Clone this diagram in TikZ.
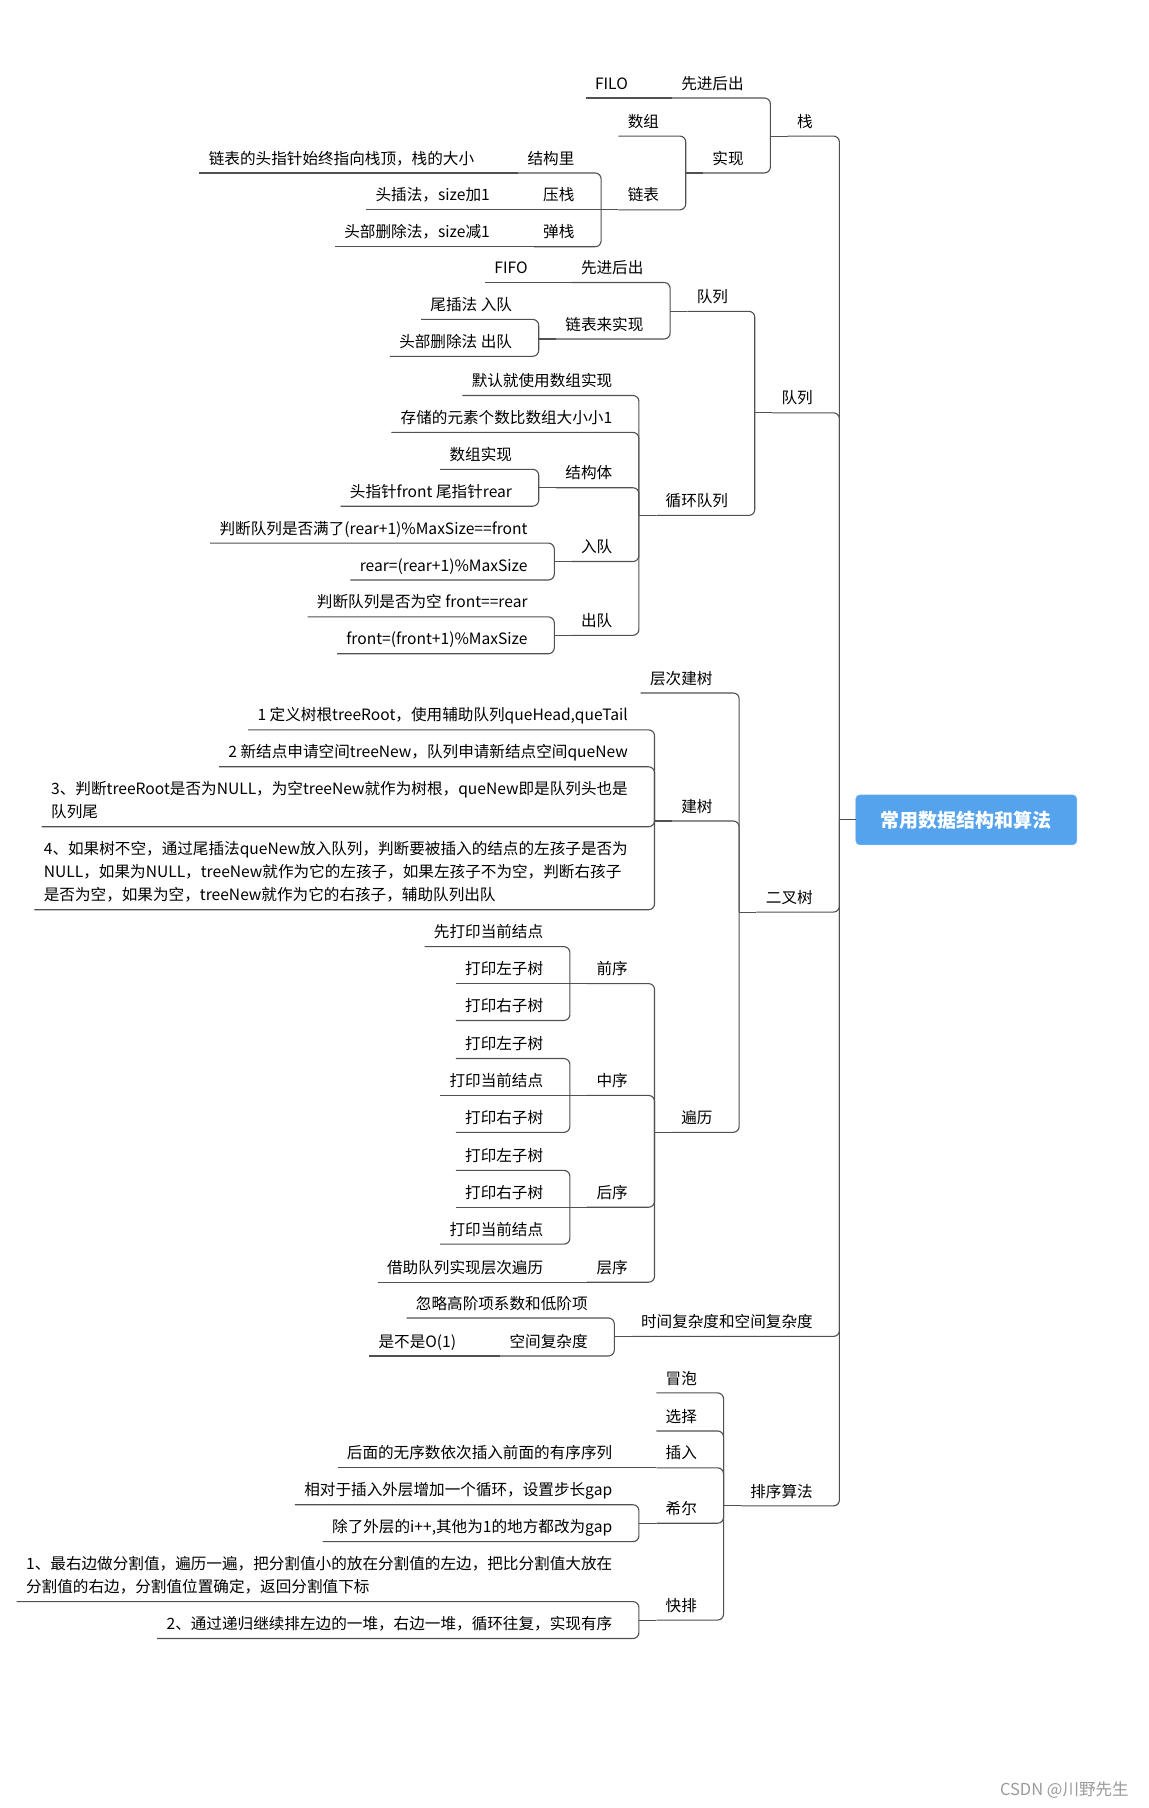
\documentclass[tikz,border=0pt]{standalone}
\usepackage{fontspec}
\setmainfont{Noto Sans CJK SC}
\usetikzlibrary{positioning,calc}
\definecolor{rootblue}{HTML}{55A3EC}
\definecolor{rootedge}{HTML}{8CC0F2}
\definecolor{linkgray}{HTML}{505050}
\definecolor{markgray}{HTML}{9A9A9A}
\newcommand{\mmfont}{\fontsize{15.6pt}{23pt}\selectfont}
\tikzset{
  mmlink/.style={draw=linkgray,line width=1.1pt,rounded corners=6pt},
  mmline/.style={draw=linkgray,line width=1.1pt},
  mmitem/.style={font=\mmfont,inner xsep=9.2pt,inner ysep=5.7pt,text depth=3pt,
    anchor=south east,xshift=-17.3pt},
  mmmulti/.style={mmitem,align=left},
  rootbox/.style={draw=rootedge,fill=rootblue,rounded corners=4pt,text=white,
    font=\fontsize{19pt}{23pt}\selectfont\bfseries,
    minimum width=221pt,minimum height=50pt,inner sep=0pt},
  wmark/.style={font=\fontsize{16.5pt}{20pt}\selectfont,text=markgray},
}
\begin{document}
\begin{tikzpicture}[x=1.1526pt,y=-1.1526pt]
  \useasboundingbox (0,0) rectangle (996,1568);
  % root and its hub on the left
  \node[rootbox] (root) at (838,711) {常用数据结构和算法};
  \coordinate (root-j) at ([xshift=-16.1pt]root.west);
  \draw[mmline] (root.west) -- (root-j);
  % --- level 1 ---
  \node[mmitem] (zhan) at (root-j |- 0,118) {栈};
  \node[mmitem] (dl) at (root-j |- 0,358) {队列};
  \node[mmitem] (ecs) at (root-j |- 0,791) {二叉树};
  \node[mmitem] (fzd) at (root-j |- 0,1159) {时间复杂度和空间复杂度};
  \node[mmitem] (px) at (root-j |- 0,1306) {排序算法};
  \foreach \n in {zhan,dl,ecs,fzd,px}{
    \coordinate (\n-j) at ([xshift=-17.3pt]\n.south west);
    \draw[mmline] (\n-j) -- (\n.south west);
  }
  % --- level 2 ---
  \node[mmitem] (xjhc) at (zhan-j |- 0,85) {先进后出};
  \node[mmitem] (sx) at (zhan-j |- 0,150) {实现};
  \node[mmitem] (dlq) at (dl-j |- 0,270) {队列};
  \node[mmitem] (xhdl) at (dl-j |- 0,447) {循环队列};
  \node[mmitem] (ccjs) at (ecs-j |- 0,601) {层次建树};
  \node[mmitem] (js) at (ecs-j |- 0,712) {建树};
  \node[mmitem] (bl) at (ecs-j |- 0,982) {遍历};
  \node[mmitem] (hl) at (fzd-j |- 0,1143) {忽略高阶项系数和低阶项};
  \node[mmitem] (kj) at (fzd-j |- 0,1176) {空间复杂度};
  \node[mmitem] (mp) at (px-j |- 0,1208) {冒泡};
  \node[mmitem] (xz) at (px-j |- 0,1241) {选择};
  \node[mmitem] (cr) at (px-j |- 0,1273) {插入};
  \node[mmitem] (xe) at (px-j |- 0,1321) {希尔};
  \node[mmitem] (kp) at (px-j |- 0,1405) {快排};
  \foreach \n in {xjhc,sx,dlq,xhdl,js,bl,kj,cr,xe,kp}{
    \coordinate (\n-j) at ([xshift=-17.3pt]\n.south west);
    \draw[mmline] (\n-j) -- (\n.south west);
  }
  % --- level 3 ---
  \node[mmitem] (filo) at (xjhc-j |- 0,85) {FILO};
  \node[mmitem] (sz) at (sx-j |- 0,118) {数组};
  \node[mmitem] (lb) at (sx-j |- 0,182) {链表};
  \node[mmitem] (fifohc) at (dlq-j |- 0,245) {先进后出};
  \node[mmitem] (lbls) at (dlq-j |- 0,294) {链表来实现};
  \node[mmitem] (mr) at (xhdl-j |- 0,343) {默认就使用数组实现};
  \node[mmitem] (ccys) at (xhdl-j |- 0,375) {存储的元素个数比数组大小小1};
  \node[mmitem] (jgt) at (xhdl-j |- 0,423) {结构体};
  \node[mmitem] (rd) at (xhdl-j |- 0,487) {入队};
  \node[mmitem] (cd) at (xhdl-j |- 0,551) {出队};
  \node[mmitem] (js1) at (js-j |- 0,633) {1 定义树根treeRoot，使用辅助队列queHead,queTail};
  \node[mmitem] (js2) at (js-j |- 0,665) {2 新结点申请空间treeNew，队列申请新结点空间queNew};
  \node[mmmulti] (js3) at (js-j |- 0,717)
    {3、判断treeRoot是否为NULL，为空treeNew就作为树根，queNew即是队列头也是\\队列尾};
  \node[mmmulti] (js4) at (js-j |- 0,789)
    {4、如果树不空，通过尾插法queNew放入队列，判断要被插入的结点的左孩子是否为\\
     NULL，如果为NULL，treeNew就作为它的左孩子，如果左孩子不为空，判断右孩子\\
     是否为空，如果为空，treeNew就作为它的右孩子，辅助队列出队};
  \node[mmitem] (qx) at (bl-j |- 0,853) {前序};
  \node[mmitem] (zx) at (bl-j |- 0,950) {中序};
  \node[mmitem] (hx) at (bl-j |- 0,1047) {后序};
  \node[mmitem] (cx) at (bl-j |- 0,1112) {层序};
  \node[mmitem] (bsb) at (kj-j |- 0,1176) {是不是O(1)};
  \node[mmitem] (crs) at (cr-j |- 0,1273) {后面的无序数依次插入前面的有序序列};
  \node[mmitem] (xe1) at (xe-j |- 0,1305) {相对于插入外层增加一个循环，设置步长gap};
  \node[mmitem] (xe2) at (xe-j |- 0,1337) {除了外层的i++,其他为1的地方都改为gap};
  \node[mmmulti] (kp1) at (kp-j |- 0,1389)
    {1、最右边做分割值，遍历一遍，把分割值小的放在分割值的左边，把比分割值大放在\\
     分割值的右边，分割值位置确定，返回分割值下标};
  \node[mmitem] (kp2) at (kp-j |- 0,1421) {2、通过递归继续排左边的一堆，右边一堆，循环往复，实现有序};
  \foreach \n in {lb,fifohc,lbls,jgt,rd,cd,qx,zx,hx,cx}{
    \coordinate (\n-j) at ([xshift=-17.3pt]\n.south west);
    \draw[mmline] (\n-j) -- (\n.south west);
  }
  % --- level 4 ---
  \node[mmitem] (fifo) at (fifohc-j |- 0,245) {FIFO};
  \node[mmitem] (jgl) at (lb-j |- 0,150) {结构里};
  \node[mmitem] (yz) at (lb-j |- 0,182) {压栈};
  \node[mmitem] (tz) at (lb-j |- 0,214) {弹栈};
  \node[mmitem] (wc) at (lbls-j |- 0,277) {尾插法 入队};
  \node[mmitem] (tbsc) at (lbls-j |- 0,309) {头部删除法 出队};
  \node[mmitem] (szsx) at (jgt-j |- 0,407) {数组实现};
  \node[mmitem] (zz) at (jgt-j |- 0,439) {头指针front 尾指针rear};
  \node[mmitem] (rd1) at (rd-j |- 0,471) {判断队列是否满了(rear+1)\%MaxSize==front};
  \node[mmitem] (rd2) at (rd-j |- 0,503) {rear=(rear+1)\%MaxSize};
  \node[mmitem] (cd1) at (cd-j |- 0,535) {判断队列是否为空 front==rear};
  \node[mmitem] (cd2) at (cd-j |- 0,567) {front=(front+1)\%MaxSize};
  \node[mmitem] (qx1) at (qx-j |- 0,821) {先打印当前结点};
  \node[mmitem] (qx2) at (qx-j |- 0,853) {打印左子树};
  \node[mmitem] (qx3) at (qx-j |- 0,885) {打印右子树};
  \node[mmitem] (zx1) at (zx-j |- 0,918) {打印左子树};
  \node[mmitem] (zx2) at (zx-j |- 0,950) {打印当前结点};
  \node[mmitem] (zx3) at (zx-j |- 0,982) {打印右子树};
  \node[mmitem] (hx1) at (hx-j |- 0,1015) {打印左子树};
  \node[mmitem] (hx2) at (hx-j |- 0,1047) {打印右子树};
  \node[mmitem] (hx3) at (hx-j |- 0,1079) {打印当前结点};
  \node[mmitem] (cx1) at (cx-j |- 0,1112) {借助队列实现层次遍历};
  \foreach \n in {jgl,yz,tz}{
    \coordinate (\n-j) at ([xshift=-17.3pt]\n.south west);
    \draw[mmline] (\n-j) -- (\n.south west);
  }
  % --- level 5 ---
  \node[mmitem] (jgl1) at (jgl-j |- 0,150) {链表的头指针始终指向栈顶，栈的大小};
  \node[mmitem] (yz1) at (yz-j |- 0,182) {头插法，size加1};
  \node[mmitem] (tz1) at (tz-j |- 0,214) {头部删除法，size减1};
  % connectors that bend into the parent's hub
  \foreach \c/\p in {zhan/root,dl/root,ecs/root,fzd/root,px/root,
      xjhc/zhan,sx/zhan,dlq/dl,xhdl/dl,ccjs/ecs,js/ecs,bl/ecs,hl/fzd,kj/fzd,
      mp/px,xz/px,cr/px,xe/px,kp/px,sz/sx,lb/sx,fifohc/dlq,lbls/dlq,
      mr/xhdl,ccys/xhdl,jgt/xhdl,rd/xhdl,cd/xhdl,js1/js,js2/js,js3/js,js4/js,
      qx/bl,zx/bl,hx/bl,cx/bl,xe1/xe,xe2/xe,kp1/kp,kp2/kp,jgl/lb,tz/lb,
      wc/lbls,tbsc/lbls,szsx/jgt,zz/jgt,rd1/rd,rd2/rd,cd1/cd,cd2/cd,
      qx1/qx,qx3/qx,zx1/zx,zx3/zx,hx1/hx,hx3/hx}
    \draw[mmlink] (\c.south west) -| (\p-j);
  % connectors that run straight on
  \foreach \c/\p in {filo/xjhc,fifo/fifohc,jgl1/jgl,yz1/yz,tz1/tz,yz/lb,
      qx2/qx,zx2/zx,hx2/hx,cx1/cx,bsb/kj,crs/cr}
    \draw[mmline] (\c.south west) -- (\p-j);
  \node[wmark] (wm) at (923,1552) {CSDN @川野先生};
\end{tikzpicture}
\end{document}
